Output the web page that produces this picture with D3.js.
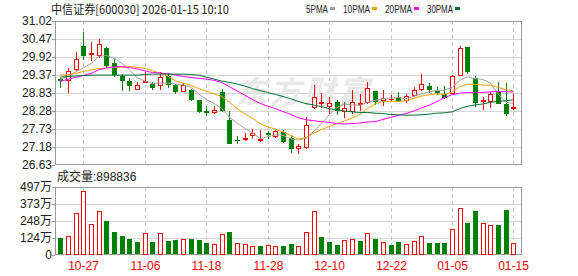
<!DOCTYPE html>
<html>
<head>
<meta charset="utf-8">
<script src="https://cdn.jsdelivr.net/npm/d3@7"></script>
<style>
  body { margin: 0; background: #fff; }
  svg { display: block; }
</style>
</head>
<body>
<div id="chart"></div>
<script>
// 日K数据 (中信证券 600030)
const dates = ["10-22","10-23","10-24","10-27","10-28","10-29","10-30","10-31","11-03","11-04",
  "11-05","11-06","11-07","11-10","11-11","11-12","11-13","11-14","11-17","11-18",
  "11-19","11-20","11-21","11-24","11-25","11-26","11-27","11-28","12-01","12-02",
  "12-03","12-04","12-05","12-08","12-09","12-10","12-11","12-12","12-15","12-16",
  "12-17","12-18","12-19","12-22","12-23","12-24","12-25","12-26","12-29","12-30",
  "12-31","01-05","01-06","01-07","01-08","01-09","01-12","01-13","01-14","01-15"];
const opens = [29.24,29.22,29.57,30.27,30.00,29.98,30.20,29.73,29.34,29.19,
  28.95,29.15,29.09,29.07,29.34,29.07,28.90,28.93,28.61,28.28,
  28.24,28.86,28.00,27.39,27.42,27.54,27.38,27.61,27.51,27.65,
  27.44,27.15,27.19,28.40,28.51,28.43,28.55,28.28,28.27,28.48,
  28.55,28.89,28.60,28.63,28.69,28.61,28.76,28.95,29.04,28.88,
  28.79,28.84,29.37,30.24,29.27,28.57,28.59,28.87,28.49,28.38];
const highs = [29.28,29.59,30.06,30.67,30.38,30.47,30.23,29.85,29.40,29.28,
  29.16,29.47,29.15,29.45,29.42,29.10,29.13,28.96,28.61,28.43,
  28.43,28.95,28.28,27.50,27.62,27.73,27.71,27.68,27.71,27.71,
  27.54,27.27,28.08,29.07,28.83,28.71,28.61,28.55,28.93,28.80,
  29.16,28.90,28.93,28.76,28.86,28.80,29.02,29.40,29.14,29.01,
  29.05,29.37,30.27,30.24,29.34,28.70,28.87,29.16,29.14,28.78];
const lows = [29.01,28.87,29.53,29.85,29.82,29.92,29.62,29.34,28.92,28.93,
  28.95,29.15,28.96,28.96,29.01,28.83,28.90,28.61,28.24,28.15,
  28.22,28.28,27.30,27.29,27.38,27.45,27.36,27.45,27.48,27.33,
  27.03,27.00,27.16,28.37,28.39,28.19,28.17,28.09,28.22,28.31,
  28.52,28.50,28.47,28.57,28.57,28.54,28.73,28.92,28.87,28.79,
  28.67,28.79,29.36,29.42,28.43,28.35,28.41,28.52,28.15,28.35];
const closes = [29.21,29.51,29.85,29.98,30.03,30.31,29.68,29.39,29.22,29.08,
  29.06,29.19,29.01,29.31,29.10,28.89,29.07,28.64,28.28,28.25,
  28.30,28.31,27.31,27.38,27.46,27.62,27.41,27.58,27.67,27.36,
  27.15,27.21,27.84,28.69,28.54,28.53,28.31,28.38,28.54,28.51,
  28.97,28.58,28.67,28.64,28.61,28.73,28.93,29.10,28.95,28.86,
  28.71,29.34,30.19,29.50,28.56,28.60,28.79,28.53,28.23,28.40];
// 成交量 (万)
const volumes = [124,139,307,468,224,322,248,170,139,117,
  97,161,97,161,105,110,115,117,110,90,
  80,153,170,88,80,63,66,73,66,66,
  80,66,168,322,132,95,73,110,115,102,
  158,117,93,73,95,78,100,137,85,85,
  85,188,341,234,322,232,217,217,329,89.8836];

const ma5 = [29.24,29.33,29.47,29.59,29.72,29.94,29.97,29.88,29.73,29.54,
  29.29,29.19,29.11,29.13,29.13,29.10,29.08,29.00,28.80,28.63,
  28.51,28.36,28.09,27.91,27.75,27.62,27.44,27.49,27.55,27.53,
  27.43,27.39,27.45,27.65,27.89,28.16,28.38,28.49,28.46,28.45,
  28.54,28.60,28.65,28.67,28.69,28.65,28.72,28.80,28.86,28.91,
  28.91,28.99,29.21,29.32,29.26,29.24,29.13,28.80,28.54,28.51];
const ma10 = [29.37,29.38,29.42,29.48,29.53,29.57,29.59,29.60,29.61,29.63,
  29.61,29.58,29.50,29.43,29.34,29.19,29.13,29.06,28.96,28.88,
  28.80,28.72,28.55,28.35,28.19,28.06,27.90,27.79,27.73,27.64,
  27.53,27.42,27.47,27.60,27.71,27.80,27.89,27.97,28.06,28.17,
  28.35,28.49,28.57,28.57,28.57,28.59,28.66,28.73,28.77,28.80,
  28.78,28.85,29.01,29.09,29.09,29.07,29.06,29.00,28.93,28.89];
const ma20 = [29.18,29.24,29.30,29.36,29.42,29.53,29.59,29.62,29.63,29.60,
  29.56,29.50,29.45,29.43,29.42,29.37,29.33,29.30,29.27,29.25,
  29.21,29.15,29.02,28.89,28.76,28.63,28.51,28.42,28.35,28.26,
  28.17,28.07,28.01,27.98,27.95,27.93,27.89,27.88,27.89,27.91,
  27.94,27.95,28.02,28.08,28.14,28.20,28.27,28.37,28.45,28.56,
  28.68,28.77,28.82,28.84,28.84,28.84,28.86,28.87,28.86,28.86];
const ma30 = [29.31,29.33,29.34,29.36,29.37,29.37,29.37,29.37,29.37,29.37,
  29.37,29.39,29.40,29.40,29.40,29.40,29.40,29.39,29.37,29.31,
  29.25,29.19,29.15,29.10,29.04,28.96,28.90,28.84,28.78,28.72,
  28.65,28.57,28.50,28.46,28.41,28.35,28.31,28.27,28.25,28.23,
  28.23,28.21,28.20,28.17,28.16,28.15,28.15,28.16,28.18,28.21,
  28.22,28.25,28.35,28.42,28.46,28.49,28.54,28.57,28.59,28.62];

const priceTicks = ["31.02","30.47","29.92","29.37","28.83","28.28","27.73","27.18","26.63"];
const volTickValues = [497, 373, 248, 124, 0];
const volTickLabels = ["497万","373万","248万","124万","0"];
const dateLabels = ["10-27","11-06","11-18","11-28","12-10","12-22","01-05","01-15"];
const maNames = ["5PMA","10PMA","20PMA","30PMA"];
const maSeries = [ma5, ma10, ma20, ma30];
const maColors = ["#a0a0a0", "#f0a000", "#ff00ff", "#006e32"];

const W = 578, H = 276;
const left = 55, right = 522;
const pTop = 21, pBottom = 165;
const vTop = 187, vBottom = 255;
const RED = "#ff0000", GREEN = "#008000";
const FONT = "'Liberation Sans', Arial, 'Noto Sans CJK SC', sans-serif";

const svg = d3.select("#chart").append("svg")
  .attr("width", W).attr("height", H)
  .style("font-family", FONT);

const x = d3.scalePoint().domain(dates).range([60.3, 513.4]);
const y = d3.scaleLinear().domain([26.63, 31.02]).range([pBottom, pTop]);
const yv = d3.scaleLinear().domain([0, 497]).range([vBottom, vTop]);
const px = d => Math.round(x(d));

// 标题
svg.append("text")
  .attr("x", 51).attr("y", 14)
  .attr("font-family", "'Noto Sans CJK SC', sans-serif")
  .attr("font-size", 12)
  .attr("fill", "#222")
  .attr("textLength", 178)
  .attr("lengthAdjust", "spacingAndGlyphs")
  .text("中信证券[600030] 2026-01-15 10:10");

// 图例
const legX = [306, 343, 385, 427];
const legW = [22, 27, 27, 26];
maNames.forEach((name, i) => {
  svg.append("text")
    .attr("x", legX[i]).attr("y", 13)
    .attr("font-size", 11)
    .attr("fill", "#222")
    .attr("textLength", legW[i])
    .attr("lengthAdjust", "spacingAndGlyphs")
    .text(name);
  svg.append("rect")
    .attr("x", legX[i] + legW[i] + 2).attr("y", 7)
    .attr("width", 5).attr("height", 3)
    .attr("fill", maColors[i]);
});

// 网格
const grid = svg.append("g").attr("shape-rendering", "crispEdges");
priceTicks.slice(1, -1).forEach(t => {
  const yy = Math.round(y(+t)) + 0.5;
  grid.append("line").attr("x1", left).attr("x2", right).attr("y1", yy).attr("y2", yy)
    .attr("stroke", "#d6d6d6");
});
volTickValues.slice(1, -1).forEach(v => {
  const yy = Math.round(yv(v)) + 0.5;
  grid.append("line").attr("x1", left).attr("x2", right).attr("y1", yy).attr("y2", yy)
    .attr("stroke", "#d6d6d6");
});
dateLabels.forEach(d => {
  const xx = px(d) + 0.5;
  [[pTop, pBottom], [vTop, vBottom]].forEach(([a, b]) => {
    grid.append("line").attr("x1", xx).attr("x2", xx).attr("y1", a).attr("y2", b)
      .attr("stroke", "#c8c8c8").attr("stroke-dasharray", "4,3");
  });
});

// 水印
svg.append("text")
  .attr("x", 236).attr("y", 103)
  .attr("font-family", "'Noto Sans CJK SC', sans-serif")
  .attr("font-size", 31)
  .attr("font-weight", "bold")
  .attr("font-style", "italic")
  .attr("letter-spacing", 3)
  .attr("fill", "#e8e8e8")
  .text("东方财富");

// 边框
const frame = svg.append("g").attr("shape-rendering", "crispEdges")
  .attr("fill", "none").attr("stroke", "#9a9a9a");
frame.append("rect").attr("x", left + 0.5).attr("y", pTop + 0.5)
  .attr("width", right - left - 1).attr("height", pBottom - pTop - 1);
frame.append("rect").attr("x", left + 0.5).attr("y", vTop + 0.5)
  .attr("width", right - left - 1).attr("height", vBottom - vTop - 1);

// 价格刻度
const yAxis = svg.append("g");
priceTicks.forEach(t => {
  const yy = y(+t);
  yAxis.append("line").attr("x1", 52).attr("x2", 55)
    .attr("y1", Math.round(yy) + 0.5).attr("y2", Math.round(yy) + 0.5)
    .attr("stroke", "#9a9a9a").attr("shape-rendering", "crispEdges");
  yAxis.append("text")
    .attr("x", 52).attr("y", yy).attr("dy", "0.36em")
    .attr("text-anchor", "end")
    .attr("font-size", 12).attr("fill", "#222")
    .text(t);
});

// 成交量刻度
volTickValues.forEach((v, i) => {
  const yy = yv(v);
  yAxis.append("line").attr("x1", 52).attr("x2", 55)
    .attr("y1", Math.round(yy) + 0.5).attr("y2", Math.round(yy) + 0.5)
    .attr("stroke", "#9a9a9a").attr("shape-rendering", "crispEdges");
  yAxis.append("text")
    .attr("x", 52).attr("y", yy).attr("dy", "0.36em")
    .attr("text-anchor", "end")
    .attr("font-size", 12).attr("fill", "#222")
    .text(volTickLabels[i]);
});

svg.append("text")
  .attr("x", 57).attr("y", 181)
  .attr("font-size", 12).attr("fill", "#222")
  .text("成交量:" + Math.round(volumes[volumes.length - 1] * 10000));

// 日期
dateLabels.forEach(d => {
  svg.append("text")
    .attr("x", px(d) + 0.5).attr("y", 270)
    .attr("text-anchor", "middle")
    .attr("font-size", 12).attr("fill", RED)
    .text(d);
});

// K线
const kg = svg.append("g").attr("shape-rendering", "crispEdges");
dates.forEach((d, i) => {
  const o = opens[i], c = closes[i];
  const cx = px(d) + 0.5;
  const yHi = Math.round(y(highs[i])), yLo = Math.round(y(lows[i]));
  const yT = Math.round(y(Math.max(o, c))), yB = Math.round(y(Math.min(o, c)));
  const up = c > o;
  const col = c >= o ? RED : GREEN;
  if (yB - yT < 1) {
    kg.append("line").attr("x1", cx).attr("x2", cx).attr("y1", yHi).attr("y2", yLo + 1).attr("stroke", col);
    kg.append("line").attr("x1", cx - 2.5).attr("x2", cx + 2.5).attr("y1", yT + 0.5).attr("y2", yT + 0.5).attr("stroke", col);
  } else if (up) {
    kg.append("line").attr("x1", cx).attr("x2", cx).attr("y1", yHi).attr("y2", yT).attr("stroke", col);
    kg.append("line").attr("x1", cx).attr("x2", cx).attr("y1", yB).attr("y2", yLo + 1).attr("stroke", col);
    kg.append("rect").attr("x", cx - 2).attr("y", yT + 0.5)
      .attr("width", 4).attr("height", yB - yT)
      .attr("fill", "#fff").attr("stroke", col);
  } else {
    kg.append("line").attr("x1", cx).attr("x2", cx).attr("y1", yHi).attr("y2", yLo + 1).attr("stroke", col);
    kg.append("rect").attr("x", cx - 2.5).attr("y", yT)
      .attr("width", 5).attr("height", yB - yT + 1)
      .attr("fill", col);
  }
});

// 均线
maSeries.forEach((s, k) => {
  const line = d3.line().x((v, i) => x(dates[i])).y(v => y(v));
  svg.append("path")
    .attr("d", line(s))
    .attr("fill", "none")
    .attr("stroke", maColors[k])
    .attr("stroke-width", 1);
});

// 成交量柱
const vg = svg.append("g").attr("shape-rendering", "crispEdges");
dates.forEach((d, i) => {
  const rise = i === 0 ? closes[0] >= opens[0] : closes[i] >= closes[i - 1];
  const cx = px(d) + 0.5;
  const yt = Math.round(yv(volumes[i]));
  if (rise) {
    vg.append("rect").attr("x", cx - 2).attr("y", yt + 0.5)
      .attr("width", 4).attr("height", vBottom - 1 - yt - 0.5)
      .attr("fill", "#fff").attr("stroke", RED);
  } else {
    vg.append("rect").attr("x", cx - 2.5).attr("y", yt)
      .attr("width", 5).attr("height", vBottom - 1 - yt)
      .attr("fill", GREEN);
  }
});
</script>
</body>
</html>
